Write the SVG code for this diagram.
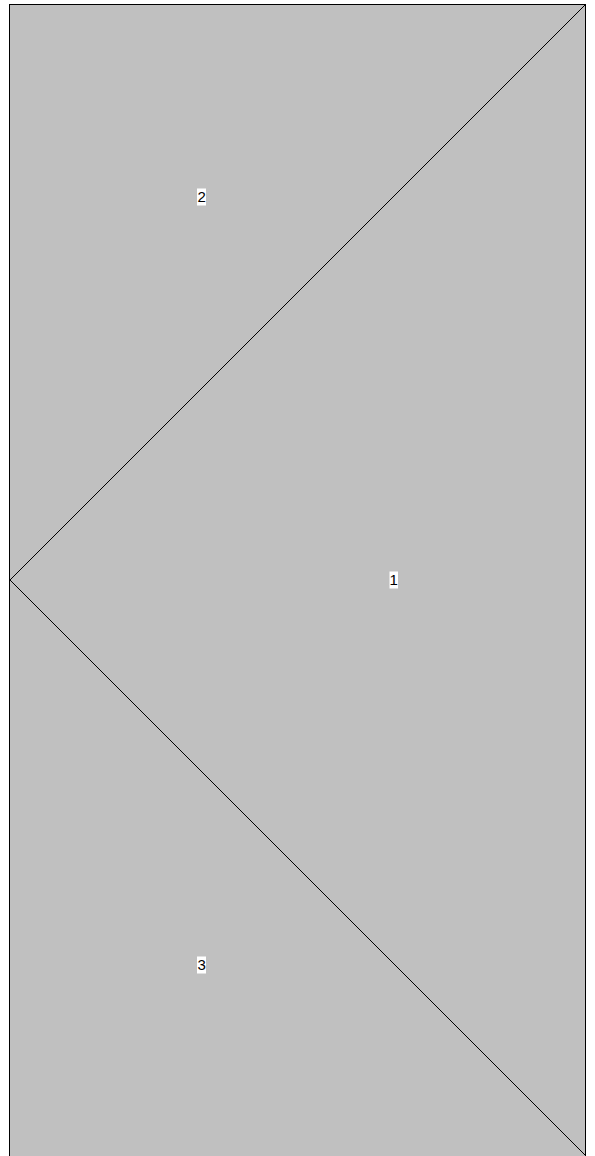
<svg xmlns="http://www.w3.org/2000/svg" width="595" height="1156" viewBox="0 0 595 1156">
<style>
.region{fill:#c0c0c0;stroke:none}
.edge{stroke:#000;stroke-width:1;fill:none;shape-rendering:crispEdges}
.lbg{fill:#fff}
.lbl{font-family:"Liberation Sans",Arial,sans-serif;font-size:15px;fill:#000;text-anchor:middle}
</style>
<rect class="region" x="10" y="5" width="575" height="1151"/>
<g id="connectors">
<path class="edge" d="M9.5,1156 L9.5,4.5 L585.5,4.5 L585.5,1156"/>
<path class="edge" d="M585,5 L10,580 L585,1155"/>
</g>
<g id="node-2">
<rect class="lbg" x="197" y="188.5" width="9" height="17"/>
<text class="lbl" x="201.7" y="202">2</text>
</g>
<g id="node-1">
<rect class="lbg" x="389.5" y="571.5" width="8.5" height="17"/>
<text class="lbl" x="393.7" y="585">1</text>
</g>
<g id="node-3">
<rect class="lbg" x="197" y="956.5" width="9" height="17"/>
<text class="lbl" x="201.7" y="970">3</text>
</g>
</svg>
